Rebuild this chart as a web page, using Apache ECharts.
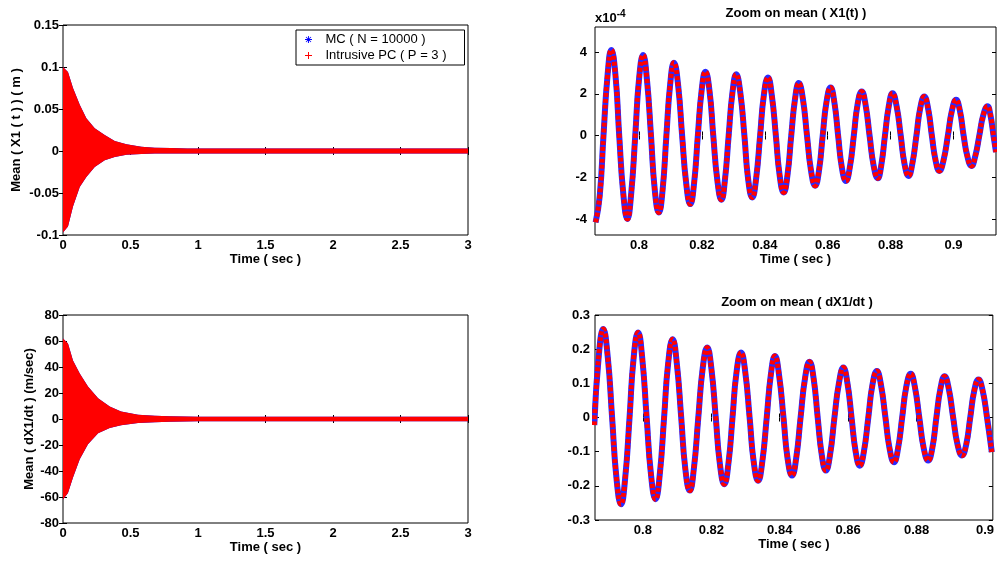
<!DOCTYPE html>
<html><head><meta charset="utf-8">
<script src="https://cdn.jsdelivr.net/npm/echarts@6/dist/echarts.min.js"></script>
<style>html,body{margin:0;padding:0;background:#fff}#c{width:997px;height:563px}</style>
</head><body><div id="c"></div>
<script>
// ---------- data ----------
// Top-left: envelope of the dense oscillation of mean X1(t) [m]
const tlTime  = [0, 0.037, 0.074, 0.124, 0.173, 0.235, 0.309, 0.383, 0.47, 0.58, 0.68, 0.8, 0.92, 1.5, 2.0, 2.5, 3.0];
const tlUpper = [0.100, 0.094, 0.075, 0.055, 0.039, 0.027, 0.019, 0.012, 0.008, 0.005, 0.004, 0.0035, 0.003, 0.003, 0.003, 0.003, 0.003];
const tlLower = [-0.097, -0.090, -0.066, -0.043, -0.031, -0.019, -0.011, -0.007, -0.0045, -0.0035, -0.003, -0.003, -0.003, -0.003, -0.003, -0.003, -0.003];

// Bottom-left: envelope of mean dX1/dt [m/sec]
const blTime  = [0, 0.037, 0.074, 0.124, 0.185, 0.26, 0.346, 0.43, 0.556, 0.68, 0.79, 1.0, 1.5, 2.0, 2.5, 3.0];
const blUpper = [62, 58, 45, 35, 25, 16, 9.6, 5.8, 3.2, 2.5, 2.2, 1.8, 1.8, 1.8, 1.8, 1.8];
const blLower = [-62, -57, -45, -31, -19.5, -11, -7, -4.8, -3, -2.5, -2.2, -1.8, -1.8, -1.8, -1.8, -1.8];

// Top-right: zoom on mean X1(t), [time, value in 1e-4 m] (extrema, shoulders, zero crossings)
const trPoints = [
  [0.7862,-4.16],[0.7875,-2.9],[0.7887,0],[0.7900,2.9],[0.7912,4.10],[0.7925,2.9],[0.7937,0],[0.7950,-2.8],
  [0.7963,-4.00],[0.7975,-2.8],[0.7988,0],[0.8000,2.7],[0.8013,3.86],[0.8025,2.7],[0.8038,0],[0.8050,-2.6],
  [0.8063,-3.69],[0.8075,-2.6],[0.8087,0],[0.8099,2.45],[0.8111,3.49],[0.8124,2.45],[0.8137,0],[0.8150,-2.3],
  [0.8163,-3.29],[0.8175,-2.3],[0.8187,0],[0.8199,2.15],[0.8211,3.06],[0.8224,2.15],[0.8236,0],[0.8249,-2.15],
  [0.8262,-3.08],[0.8273,-2.15],[0.8285,0],[0.8297,2.05],[0.8309,2.93],[0.8322,2.05],[0.8335,0],[0.8347,-2.1],
  [0.8360,-2.97],[0.8372,-2.1],[0.8385,0],[0.8397,1.95],[0.8410,2.78],[0.8422,1.95],[0.8435,0],[0.8447,-1.9],
  [0.8460,-2.73],[0.8472,-1.9],[0.8484,0],[0.8496,1.75],[0.8508,2.51],[0.8521,1.75],[0.8534,0],[0.8547,-1.7],
  [0.8560,-2.41],[0.8572,-1.7],[0.8584,0],[0.8596,1.6],[0.8609,2.30],[0.8621,1.6],[0.8633,0],[0.8645,-1.55],
  [0.8658,-2.18],[0.8670,-1.55],[0.8683,0],[0.8695,1.5],[0.8708,2.11],[0.8720,1.5],[0.8733,0],[0.8746,-1.45],
  [0.8759,-2.05],[0.8770,-1.45],[0.8782,0],[0.8794,1.4],[0.8806,2.03],[0.8819,1.4],[0.8832,0],[0.8844,-1.35],
  [0.8857,-1.94],[0.8869,-1.35],[0.8882,0],[0.8894,1.3],[0.8907,1.87],[0.8919,1.3],[0.8931,0],[0.8943,-1.2],
  [0.8955,-1.70],[0.8968,-1.2],[0.8982,0],[0.8995,1.2],[0.9008,1.71],[0.9020,1.2],[0.9032,0],[0.9044,-1.0],
  [0.9057,-1.46],[0.9069,-1.0],[0.9082,0],[0.9095,1.0],[0.9108,1.40],[0.9117,1.0],[0.9127,0],[0.9135,-0.8]
];

// Bottom-right: zoom on mean dX1/dt, [time, value in m/sec]
const brPoints = [
  [0.7858,-0.022],[0.7871,0.18],[0.7884,0.259],[0.7897,0.18],[0.7910,0],[0.7923,-0.18],[0.7936,-0.254],[0.7948,-0.18],
  [0.7961,0],[0.7973,0.175],[0.7986,0.249],[0.7998,0.175],[0.8011,0],[0.8024,-0.17],[0.8037,-0.239],[0.8049,-0.17],
  [0.8062,0],[0.8074,0.16],[0.8087,0.229],[0.8099,0.16],[0.8112,0],[0.8124,-0.15],[0.8137,-0.214],[0.8149,-0.15],
  [0.8162,0],[0.8175,0.145],[0.8188,0.205],[0.8200,0.145],[0.8213,0],[0.8225,-0.135],[0.8238,-0.195],[0.8250,-0.135],
  [0.8262,0],[0.8274,0.135],[0.8287,0.190],[0.8299,0.135],[0.8312,0],[0.8324,-0.13],[0.8337,-0.185],[0.8349,-0.13],
  [0.8362,0],[0.8374,0.125],[0.8386,0.180],[0.8398,0.125],[0.8411,0],[0.8423,-0.12],[0.8436,-0.170],[0.8448,-0.12],
  [0.8461,0],[0.8474,0.115],[0.8487,0.163],[0.8499,0.115],[0.8511,0],[0.8523,-0.11],[0.8535,-0.155],[0.8547,-0.11],
  [0.8560,0],[0.8573,0.10],[0.8586,0.146],[0.8598,0.10],[0.8610,0],[0.8622,-0.10],[0.8634,-0.141],[0.8646,-0.10],
  [0.8659,0],[0.8671,0.095],[0.8684,0.136],[0.8696,0.095],[0.8709,0],[0.8721,-0.09],[0.8734,-0.131],[0.8746,-0.09],
  [0.8758,0],[0.8770,0.09],[0.8783,0.128],[0.8795,0.09],[0.8808,0],[0.8821,-0.09],[0.8834,-0.126],[0.8846,-0.09],
  [0.8858,0],[0.8870,0.085],[0.8882,0.121],[0.8894,0.085],[0.8907,0],[0.8920,-0.08],[0.8933,-0.111],[0.8945,-0.08],
  [0.8957,0],[0.8969,0.08],[0.8981,0.111],[0.8993,0.08],[0.9006,0],[0.9020,-0.101]
];

// tick labels
const xTicksLeft  = [0, 0.5, 1, 1.5, 2, 2.5, 3];
const xTicksZoom  = [0.8, 0.82, 0.84, 0.86, 0.88, 0.9];
const yTicksTL = [-0.1, -0.05, 0, 0.05, 0.1, 0.15];
const yTicksBL = [-80, -60, -40, -20, 0, 20, 40, 60, 80];
const yTicksTR = [-4, -2, 0, 2, 4];
const yTicksBR = [-0.3, -0.2, -0.1, 0, 0.1, 0.2, 0.3];

const nameMC = 'MC ( N = 10000 )';
const namePC = 'Intrusive PC ( P = 3 )';

// ---------- chart ----------
const FONT = '"Liberation Sans", Arial, sans-serif';
const txt = {color:'#000', fontSize:13, fontWeight:'bold', fontFamily:FONT};

function xAxes(g, min, max, ticks) {
  const tick = {inside:true, length:4, lineStyle:{color:'#000', width:1}, customValues:ticks};
  return [
    {gridIndex:g, type:'value', min, max, position:'bottom', splitLine:{show:false}, axisLine:{show:false},
     axisTick:tick, axisLabel:Object.assign({customValues:ticks, margin:4, formatter:v=>String(v)}, txt),
     name:'Time ( sec )', nameLocation:'middle', nameGap:17, nameTextStyle:txt},
    {gridIndex:g, type:'value', min, max, position:'top', splitLine:{show:false}, axisLine:{show:false},
     axisTick:tick, axisLabel:{show:false}}
  ];
}
function yAxes(g, min, max, ticks, name, gap, margin) {
  const tick = {inside:true, length:4, lineStyle:{color:'#000', width:1}, customValues:ticks};
  const main = {gridIndex:g, type:'value', min, max, position:'left', splitLine:{show:false}, axisLine:{show:false},
     axisTick:tick, axisLabel:Object.assign({customValues:ticks, margin, formatter:v=>String(v)}, txt)};
  if (name) Object.assign(main, {name, nameLocation:'middle', nameRotate:90, nameGap:gap, nameTextStyle:txt});
  return [main,
    {gridIndex:g, type:'value', min, max, position:'right', splitLine:{show:false}, axisLine:{show:false},
     axisTick:tick, axisLabel:{show:false}}];
}

function band(name, g, times, up, lo, color, z) {
  return {type:'custom', name, xAxisIndex:2*g, yAxisIndex:2*g, z, silent:true, clip:true,
    itemStyle:{color},
    data: times.map((t,i)=>[t, up[i], lo[i]]),
    encode:{x:0, y:[1,2]},
    renderItem:(params, api) => {
      if (params.dataIndex !== 0) return null;
      const pts = [];
      for (let i=0;i<times.length;i++) pts.push(api.coord([times[i], up[i]]));
      for (let i=times.length-1;i>=0;i--) pts.push(api.coord([times[i], lo[i]]));
      return {type:'polygon', shape:{points:pts}, style:{fill:color}};
    }};
}
function wave(name, g, points, color, width, dash, z) {
  return {type:'line', name, xAxisIndex:2*g, yAxisIndex:2*g, z, smooth:0.5, showSymbol:false, clip:true,
    silent:true, color,
    lineStyle:{color, width, type:dash || 'solid'},
    data: points};
}

const iconPlus = 'path://M4.3,0h1.4v10h-1.4z M0,4.3h10v1.4h-10z';
const iconStar = 'path://M4.4,0h1.2v10h-1.4z M0,4.4h10v1.2h-10z M1,1.8L1.8,1L9,8.2L8.2,9z M8.2,1L9,1.8L1.8,9L1,8.2z';

const option = {
  animation:false,
  backgroundColor:'#fff',
  grid:[
    {left:63, top:25, width:405, height:210, show:true, borderColor:'#000', borderWidth:1, backgroundColor:'transparent'},
    {left:595, top:27, width:401, height:208, show:true, borderColor:'#000', borderWidth:1, backgroundColor:'transparent'},
    {left:63, top:315, width:405, height:208, show:true, borderColor:'#000', borderWidth:1, backgroundColor:'transparent'},
    {left:595, top:315, width:401, height:205, show:true, borderColor:'#000', borderWidth:1, backgroundColor:'transparent'}
  ],
  xAxis:[].concat(
    xAxes(0, 0, 3, xTicksLeft),
    xAxes(1, 0.786, 0.9135, xTicksZoom),
    xAxes(2, 0, 3, xTicksLeft),
    xAxes(3, 0.786, 0.9023, xTicksZoom)),
  yAxis:[].concat(
    yAxes(0, -0.1, 0.15, yTicksTL, 'Mean ( X1 ( t ) ) ( m )', 40, 4),
    yAxes(1, -4.77, 5.2, yTicksTR, null, 0, 8),
    yAxes(2, -80, 80, yTicksBL, 'Mean ( dX1/dt ) (m/sec)', 27, 4),
    yAxes(3, -0.3, 0.3, yTicksBR, null, 0, 5)),
  legend:{
    left:296, top:30, orient:'vertical', selectedMode:false,
    backgroundColor:'#fff', borderColor:'#000', borderWidth:1,
    padding:[3, 18, 3, 9], itemGap:3, itemWidth:24, itemHeight:7,
    textStyle:{color:'#000', fontSize:13, fontFamily:FONT},
    data:[
      {name:nameMC, icon:iconStar, itemStyle:{color:'#0000ff'}},
      {name:namePC, icon:iconPlus, itemStyle:{color:'#ff0000'}}
    ]
  },
  graphic:[
    {type:'text', x:796, y:13, style:{text:'Zoom on mean ( X1(t) )', textAlign:'center', textVerticalAlign:'middle', fill:'#000', font:'bold 13px '+FONT}},
    {type:'text', x:797, y:302, style:{text:'Zoom on mean ( dX1/dt )', textAlign:'center', textVerticalAlign:'middle', fill:'#000', font:'bold 13px '+FONT}},
    {type:'text', x:595, y:25, style:{text:'{b|x10}{s|-4}', textVerticalAlign:'bottom', rich:{
      b:{fill:'#000', font:'bold 13px '+FONT, verticalAlign:'bottom'},
      s:{fill:'#000', font:'bold 10px '+FONT, verticalAlign:'top', padding:[0,0,6,0]}}}}
  ],
  series:[
    band(nameMC, 0, tlTime, tlUpper, tlLower, '#0000ff', 1),
    band(namePC, 0, tlTime, tlUpper, tlLower, '#ff0000', 2),
    band(nameMC, 2, blTime, blUpper, blLower, '#0000ff', 1),
    band(namePC, 2, blTime, blUpper, blLower, '#ff0000', 2),
    wave(nameMC, 1, trPoints, '#2a2aff', 6, null, 1),
    wave(namePC, 1, trPoints, '#ff0000', 5, [4, 2], 2),
    wave(nameMC, 3, brPoints, '#2a2aff', 6, null, 1),
    wave(namePC, 3, brPoints, '#ff0000', 5, [4, 2], 2)
  ]
};
const chart = echarts.init(document.getElementById('c'));
chart.setOption(option);
</script></body></html>
